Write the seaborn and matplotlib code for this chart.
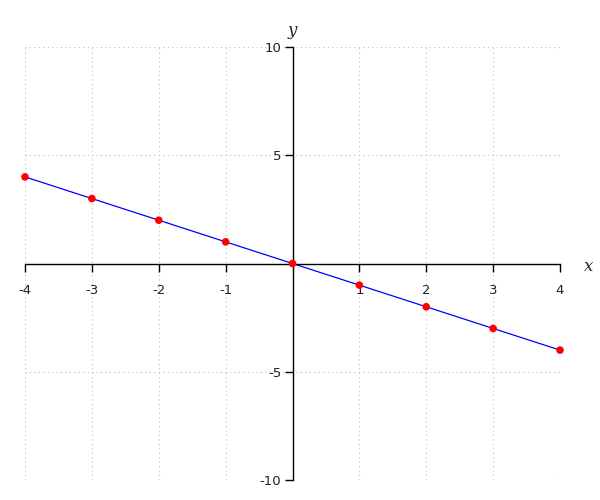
import matplotlib
matplotlib.use("Agg")
import matplotlib.pyplot as plt
import seaborn as sns
import pandas as pd

x_vals = [-4, -3, -2, -1, 0, 1, 2, 3, 4]
y_vals = [4, 3, 2, 1, 0, -1, -2, -3, -4]
x_ticks = [-4, -3, -2, -1, 1, 2, 3, 4]
y_ticks = [-10, -5, 5, 10]

sns.set_style("white")
plt.rcParams["axes.unicode_minus"] = False
plt.rcParams["font.family"] = ["DejaVu Sans"]

df = pd.DataFrame({"x": x_vals, "y": y_vals})

fig = plt.figure(figsize=(6, 5), dpi=100)
ax = fig.add_axes([25/600, 1-480/500, (560-25)/600, (480-47)/500])

# grid
for gx in x_vals:
    ax.axvline(gx, color="#bdbdbd", lw=0.8, ls=(0, (1, 3)), zorder=0)
for gy in [-10, -5, 0, 5, 10]:
    ax.axhline(gy, color="#bdbdbd", lw=0.8, ls=(0, (1, 3)), zorder=0)

sns.lineplot(data=df, x="x", y="y", ax=ax, color="blue", lw=0.9, zorder=2)
sns.scatterplot(data=df, x="x", y="y", ax=ax, color="red", s=30, edgecolor="none", zorder=3)
for coll in ax.collections:
    coll.set_clip_on(False)

ax.set_xlim(-4, 4)
ax.set_ylim(-10, 10)
ax.spines["left"].set_position(("data", 0))
ax.spines["bottom"].set_position(("data", 0))
ax.spines["right"].set_visible(False)
ax.spines["top"].set_visible(False)
for s in ["left", "bottom"]:
    ax.spines[s].set_color("black")
    ax.spines[s].set_linewidth(1.0)
    ax.spines[s].set_visible(True)

ax.set_xticks(x_ticks)
ax.set_xticklabels([str(t) for t in x_ticks])
ax.set_yticks(y_ticks)
ax.set_yticklabels([str(t) for t in y_ticks])
ax.tick_params(axis="x", direction="out", length=6, width=1, color="black", labelsize=9.5, pad=9, bottom=True)
ax.tick_params(axis="y", direction="out", length=6, width=1, color="black", labelsize=9.5, pad=2, left=True)
for lab in ax.get_xticklabels() + ax.get_yticklabels():
    lab.set_color("#222222")

ax.set_xlabel("")
ax.set_ylabel("")
ax.text(1.054, 0.494, "x", transform=ax.transAxes, fontsize=12, style="italic",
        family="DejaVu Serif", ha="center", va="center")
ax.text(0.5, 1.037, "y", transform=ax.transAxes, fontsize=12, style="italic",
        family="DejaVu Serif", ha="center", va="center")

fig.savefig("out.png", dpi=100)
